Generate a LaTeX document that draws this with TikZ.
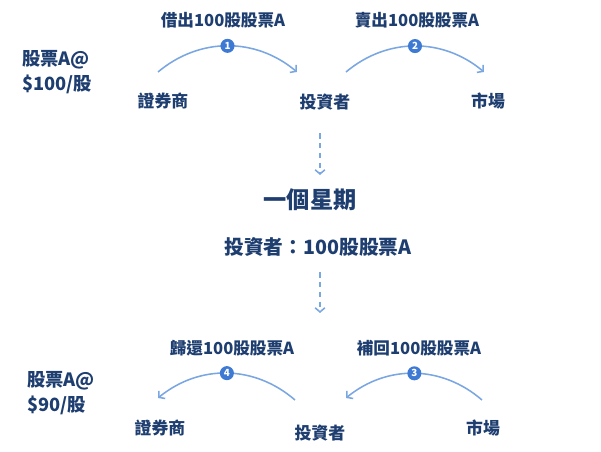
\documentclass[tikz,border=0pt]{standalone}
\usepackage{fontspec}
\setmainfont{Noto Sans CJK TC}
\usetikzlibrary{arrows.meta}
\definecolor{navy}{RGB}{30,62,112}
\definecolor{arcblue}{RGB}{122,166,226}
\definecolor{dotblue}{RGB}{62,122,212}
\begin{document}
\begin{tikzpicture}[x=0.025cm, y=-0.025cm,
		party/.style={font=\bfseries\fontsize{12}{14}\selectfont, text=navy, inner sep=0pt},
		deal/.style={font=\bfseries\fontsize{11.8}{13}\selectfont, text=navy, inner sep=0pt},
		price/.style={font=\bfseries\fontsize{13}{17.5}\selectfont, text=navy, align=left, anchor=west, inner sep=0pt},
		week/.style={font=\bfseries\fontsize{16.5}{18}\selectfont, text=navy, inner sep=0pt},
		hold/.style={font=\bfseries\fontsize{14}{16}\selectfont, text=navy, inner sep=0pt},
		flow/.style={draw=arcblue, line width=1.1pt, -{Straight Barb[length=3pt,width=7pt]}},
		wait/.style={draw=arcblue, line width=1.1pt, dash pattern=on 4pt off 3pt, -{Straight Barb[length=3pt,width=7pt]}},
		badge/.style={circle, fill=dotblue, text=white, inner sep=0pt, minimum size=10pt, font=\bfseries\fontsize{7}{7}\selectfont}]
	\useasboundingbox (0,0) rectangle (601,452);

	% before: borrow and sell
	\node[price] (cost1) at (22, 72) {股票A@\\\$100/股};
	\node[deal] (lend) at (223, 20) {借出100股股票A};
	\node[deal] (sell) at (417, 20) {賣出100股股票A};
	\node[party] (broker1) at (163, 101) {證券商};
	\node[party] (investor1) at (325, 102) {投資者};
	\node[party] (market1) at (488, 101) {市場};

	\coordinate (s1) at (158, 72);
	\coordinate (e1) at (297, 72);
	\coordinate (s2) at (346, 72);
	\coordinate (e2) at (484, 72);
	\draw[flow] (s1) to[bend left=40] node[badge, pos=.5] (b1) {1} (e1);
	\draw[flow] (s2) to[bend left=40] node[badge, pos=.5] (b2) {2} (e2);

	% one week later
	\coordinate (w1) at (320, 133);
	\coordinate (w2) at (320, 175);
	\coordinate (w3) at (320, 272);
	\coordinate (w4) at (320, 313);
	\node[week] (week) at (310, 200) {一個星期};
	\node[hold] (hold) at (318, 247) {投資者：100股股票A};
	\draw[wait] (w1) to (w2);
	\draw[wait] (w3) to (w4);

	% after: buy back and return
	\node[price] (cost2) at (27, 393) {股票A@\\\$90/股};
	\node[deal] (giveback) at (232, 348) {歸還100股股票A};
	\node[deal] (buyback) at (419, 348) {補回100股股票A};
	\node[party] (broker2) at (160, 428) {證券商};
	\node[party] (investor2) at (320, 433) {投資者};
	\node[party] (market2) at (483, 428) {市場};

	\coordinate (s3) at (482, 400);
	\coordinate (e3) at (346, 398);
	\coordinate (s4) at (295, 400);
	\coordinate (e4) at (158, 398);
	\draw[flow] (s3) to[bend right=40] node[badge, pos=.5] (b3) {3} (e3);
	\draw[flow] (s4) to[bend right=40] node[badge, pos=.5] (b4) {4} (e4);

\end{tikzpicture}
\end{document}
